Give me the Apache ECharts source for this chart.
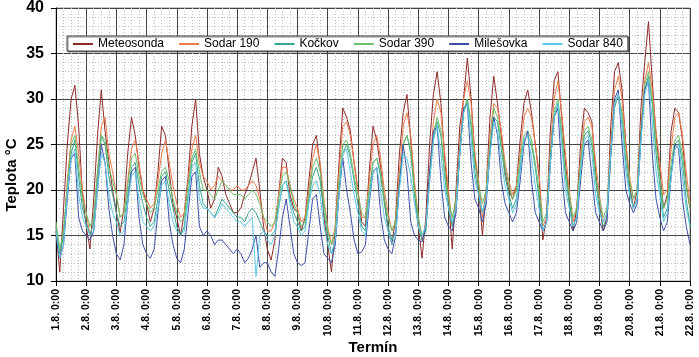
<!DOCTYPE html>
<html>
<head>
<meta charset="utf-8">
<script src="https://cdn.jsdelivr.net/npm/echarts@6/dist/echarts.min.js"></script>
<style>
html,body{margin:0;padding:0;background:#fff;}
#chart{width:699px;height:357px;}
</style>
</head>
<body>
<div id="chart"></div>
<script>
// 3-hourly samples (0,3,6,9,12,15,18,21 h) from 1.8. 0:00 to 22.8. 0:00
const dateLabels = ['1.8. 0:00','2.8. 0:00','3.8. 0:00','4.8. 0:00','5.8. 0:00','6.8. 0:00','7.8. 0:00','8.8. 0:00','9.8. 0:00','10.8. 0:00','11.8. 0:00','12.8. 0:00','13.8. 0:00','14.8. 0:00','15.8. 0:00','16.8. 0:00','17.8. 0:00','18.8. 0:00','19.8. 0:00','20.8. 0:00','21.8. 0:00','22.8. 0:00'];
const seriesNames = ['Meteosonda','Sodar 190','Kočkov','Sodar 390','Milešovka','Sodar 840'];

const meteosonda = [
15.5,11,18,25,30,31.5,27,19.5,
16,13.5,19,26,31,26.5,23,20,
17.5,15.3,18,24,28,26,22.5,20,
18.5,16.5,18,22,27,26,22,18.5,
17,15,17.5,21.5,27,30,24,21.5,
20,18,19,22.5,21.5,19.5,18.5,17.5,
17.5,18,19.5,20.5,22,23.5,20,16,
13.5,12.3,14.5,19.5,23.5,23,19.5,18,
17.5,15.5,17,21,25,26,22.5,17,
14,11,16,23,29,28,26.5,23,
20,16.5,16,22,27,25.5,22.5,19,
15.6,14,17,24,28.5,30.5,25.5,20,
16,12.5,17,25,30.5,33,29.5,23.5,
19,13.5,20,27,30,34.5,30,23.5,
20,15,20,28,32.5,29.5,26,22,
20,19,20.5,25.5,29.5,31,28.5,25,
21.5,14.5,17,26.5,32,33,28,23,
19,15.5,18,25,29,28.5,27.5,22,
18.5,15.5,17,27,33,34,31,25,
20.5,18,20,29,34,38.5,32,26,
22,18,19.5,26.5,29,28.5,25.5,20.5,
18];

const sodar190 = [
16,13,15,21,25.5,27,24,20,
17.5,15,16.5,22,27,28,24,22,
19.5,17,17.5,21,24.5,25.5,23,20,
19,18,18.5,21,24,25.5,23,20.5,
18.5,17,17.5,21,24.5,26,23,21.5,
21,20,20.5,21.5,21,20.5,20,20,
20.5,20,20,20.5,21,20.5,19,17,
15.5,15.5,16.5,19.5,22.5,22.5,20.5,19,
18,16.5,17,20,23.5,25,23,19,
16,14,16,22,27,27.5,26,23,
20,17,17,21,25,26,23.5,20,
17.5,15.5,16.5,22,27,28.5,26,21,
17,14.5,16,22,27.5,30,28.5,24,
20,16,19,25,30,32,29.5,24,
21,17,20,26,29.5,29,26.5,23,
21,19.5,20.5,24,28,29,28,25,
22,16,17,24.5,30,32,28.5,24,
20,16.5,18,23.5,27.5,28,27,23,
19.5,16.5,17.5,25,31,32.5,30,25,
21.5,19,20,27,32,34,31,26.5,
23,19.5,20,24.5,28,28.5,26,22,
18.5];

const kockov = [
16,13,15,20,24,25.5,21.5,18,
16.5,15,16.5,21.5,26,25,21.5,19.5,
17.5,16,16.5,19.5,22.5,23,20.5,18.5,
17,16,16.5,19,21.5,22,20,18,
16,15,16,19.5,23,24,20.5,18.5,
18,17.5,17,18,19,18.5,18,17.5,
17,17,16.5,17.5,18,17.5,16.5,15.5,
15,15,15.5,18,20.5,21,19,17.5,
16.5,15.5,16,19,21.5,22.5,21,17.5,
15,13,14.5,20,24,25,23.5,21,
18.5,16,15.5,19.5,23,23.5,21.5,18.5,
16,14.5,15.5,20.5,25,26,24,19.5,
16,14.5,15.5,21,25.5,27.5,26,21.5,
18,16,18,24,28.5,30,27,22,
19.5,17.5,19,24.5,28,27.5,24.5,21.5,
19.5,18,19,22.5,25.5,26,25,22.5,
19,15.5,16.5,23,28,29.5,26,21.5,
18.5,16,17,22,26,26.5,25,21,
18,16,17,23.5,29,30.5,28,23,
20,18,19,25.5,31,32.5,29.5,24,
20.5,17,18,22,25,25.5,23,19,
16];

const sodar390 = [
16.5,13.5,15.5,20.5,25,26,22.5,19,
17.5,16,17,22,26,25.5,22.5,21,
19.5,17,17.5,20.5,23.5,24,21.5,19.5,
18.5,17.5,18,20,22,22.5,21,19,
17.5,16.5,17,20.5,23.5,24.5,22,20,
20,19.5,19,20,21,20.5,20,19.5,
19.5,19.5,19,19.5,20,19.5,18.5,17,
16.5,16,16.5,19,21.5,22,20.5,18.5,
17.5,16,16.5,19.5,22.5,23.5,22,18.5,
15.5,14,15.5,21,25,25.5,24,21.5,
19.5,17.5,17,20,23,23.5,22,19,
17,15.5,16.5,21,25,26,24.5,20,
17,15,16,21.5,26,28,26.5,22,
19,17,19,24.5,28.5,30,27.5,23,
20.5,18.5,20,25,29,28,25,22.5,
20.5,19,20,23.5,26,26.5,25.5,23,
20,16.5,17.5,24,28.5,30,26.5,22,
19.5,17,18,23,26.5,27,25.5,21.5,
19,17,18,24.5,29.5,30.5,28.5,24,
21,19,20,26.5,31.5,33,30,25,
21.5,18,19,23,25.5,26,24,20.5,
18];

const milesovka = [
15,12.5,14,19,23.5,24,17,15.5,
15,14.5,15.5,20,25,23,18,15,
13,12.3,14,18.5,22,22.5,17,14,
13,12.5,13.5,17.5,21,21.5,16.5,14,
12.5,12,13.5,17.5,21.5,22,16,15,
15.5,15,14,14.5,14.5,14,13.5,13,
13.5,13,12,12.5,13.5,15,11.5,12,
12,11,10.5,13.5,17,19,16,13,
12,11.7,12,15.5,19,19.5,16,13,
12.5,12,14,19.5,23.5,20,17.5,14.5,
13,13.2,14,18.5,22,22.5,17.5,14.5,
13.5,13,15,20.5,25,22,16.5,15,
14.5,14.3,16,22,26.5,27,21,17,
16,15.5,17.5,24,29,29.5,23,19,
18,16.5,18.5,24,28,26,21,18.5,
17.5,16.5,17.5,21,25,26.5,21,17.5,
16.5,15.5,16.5,23,28,29,22,17.5,
16.5,15.5,16.5,21,25,25.5,21.5,17.5,
16.5,15.5,16.5,24,30,31,25,20,
18.5,17.5,18.5,26,31,32,24,19,
17,15.5,16.5,21.5,25,24.5,19,16,
14];

const sodar840 = [
15.5,12.5,14,19.5,23.5,24.5,19.5,17,
16,15,15.5,20,24,23,19.5,17.5,
16.5,15,15.5,18.5,21.5,22,19,16.5,
16,15.5,16,18,20.5,21,18.5,16.5,
15.5,15,15.5,19,22.5,23,19,18,
18,17.5,17,17.5,18.5,18,17.5,17,
16.5,16.5,16,16.5,17,10.5,15,15.5,
14.5,14,15,18,20.5,21,18.5,16.5,
16,15,15.5,18.5,20.5,21,19.5,16,
14,13,14.5,19.5,24,24.5,22,19.5,
17.5,15.5,15,19,22,22.5,20,17,
15.5,14,15,20,24,23.5,21.5,18.5,
16,15,16,21,25.5,27,24,20,
18,16.5,18,24,28.5,29.5,25.5,21,
19.5,17.5,19,24,27.5,26.5,23,20.5,
19,17.5,18.5,22,25.5,26,23.5,20.5,
18,15.5,16.5,23,28,29.5,25,20,
18,16,17,22,25.5,26,24,19.5,
17.5,16.5,17.5,24,29.5,30.5,27,22,
19.5,18,19,25.5,30.5,32,27.5,22,
19.5,16.5,17.5,21.5,24.5,25,21.5,18,
16];

const seriesValues = [meteosonda, sodar190, kockov, sodar390, milesovka, sodar840];
const seriesColors = ['#8E2A2A','#F07B4A','#3AA58F','#6CC16A','#3F4FA8','#5DC8E8'];

const chart = echarts.init(document.getElementById('chart'), null, {renderer:'canvas'});
const axisFont = "'Liberation Sans', Arial, sans-serif";
const option = {
  animation: false,
  backgroundColor: '#fff',
  grid: {left:56, right:9, top:8, bottom:76, show:true, borderColor:'#999', borderWidth:1, backgroundColor:'#fff'},
  legend: {
    data: seriesNames, left:67, top:36, padding:[2,5,1,6], itemGap:15, itemWidth:20, itemHeight:2,
    icon:'rect', backgroundColor:'#fff', borderColor:'#444', borderWidth:1,
    shadowColor:'rgba(0,0,0,0.45)', shadowOffsetX:1, shadowOffsetY:1, shadowBlur:0,
    textStyle:{fontFamily:axisFont, fontSize:12, color:'#000'}
  },
  xAxis: {
    type:'value', min:0, max:(dateLabels.length-1)*8, interval:8,
    axisLine:{show:true, onZero:false, lineStyle:{color:'#000', width:1}},
    axisTick:{show:true, length:5, lineStyle:{color:'#000'}},
    axisLabel:{rotate:90, margin:8, color:'#000', fontWeight:'bold', fontSize:10.5,
      fontFamily:axisFont,
      formatter: v => dateLabels[Math.round(v/8)]},
    splitLine:{show:true, lineStyle:{color:'#444', width:1}},
    minorTick:{show:false, splitNumber:4},
    minorSplitLine:{show:true, lineStyle:{color:'#bdbdbd', width:1, type:[1,2]}}
  },
  yAxis: {
    type:'value', min:10, max:40, interval:5,
    axisLine:{show:true, lineStyle:{color:'#000', width:1}},
    axisTick:{show:true, length:5, lineStyle:{color:'#000'}},
    axisLabel:{margin:12, color:'#000', fontWeight:'bold', fontSize:16, fontFamily:axisFont},
    splitLine:{show:true, lineStyle:{color:'#444', width:1}},
    minorTick:{show:false, splitNumber:5},
    minorSplitLine:{show:true, lineStyle:{color:'#bdbdbd', width:1, type:[1,2]}}
  },
  graphic: [
    {type:'text', x:12, y:175, rotation:Math.PI/2,
     style:{text:'Teplota °C', font:"bold 15px 'Liberation Sans', Arial, sans-serif", fill:'#000', align:'center', verticalAlign:'middle'}},
    {type:'text', x:373, y:348,
     style:{text:'Termín', font:"bold 15px 'Liberation Sans', Arial, sans-serif", fill:'#000', align:'center', verticalAlign:'middle'}}
  ],
  series: seriesNames.map((name, k) => ({
    name: name, type:'line', showSymbol:false, symbol:'none',
    color: seriesColors[k],
    lineStyle:{width:1, color: seriesColors[k]},
    data: seriesValues[k].map((v, i) => [i, v])
  }))
};
chart.setOption(option);
</script>
</body>
</html>
